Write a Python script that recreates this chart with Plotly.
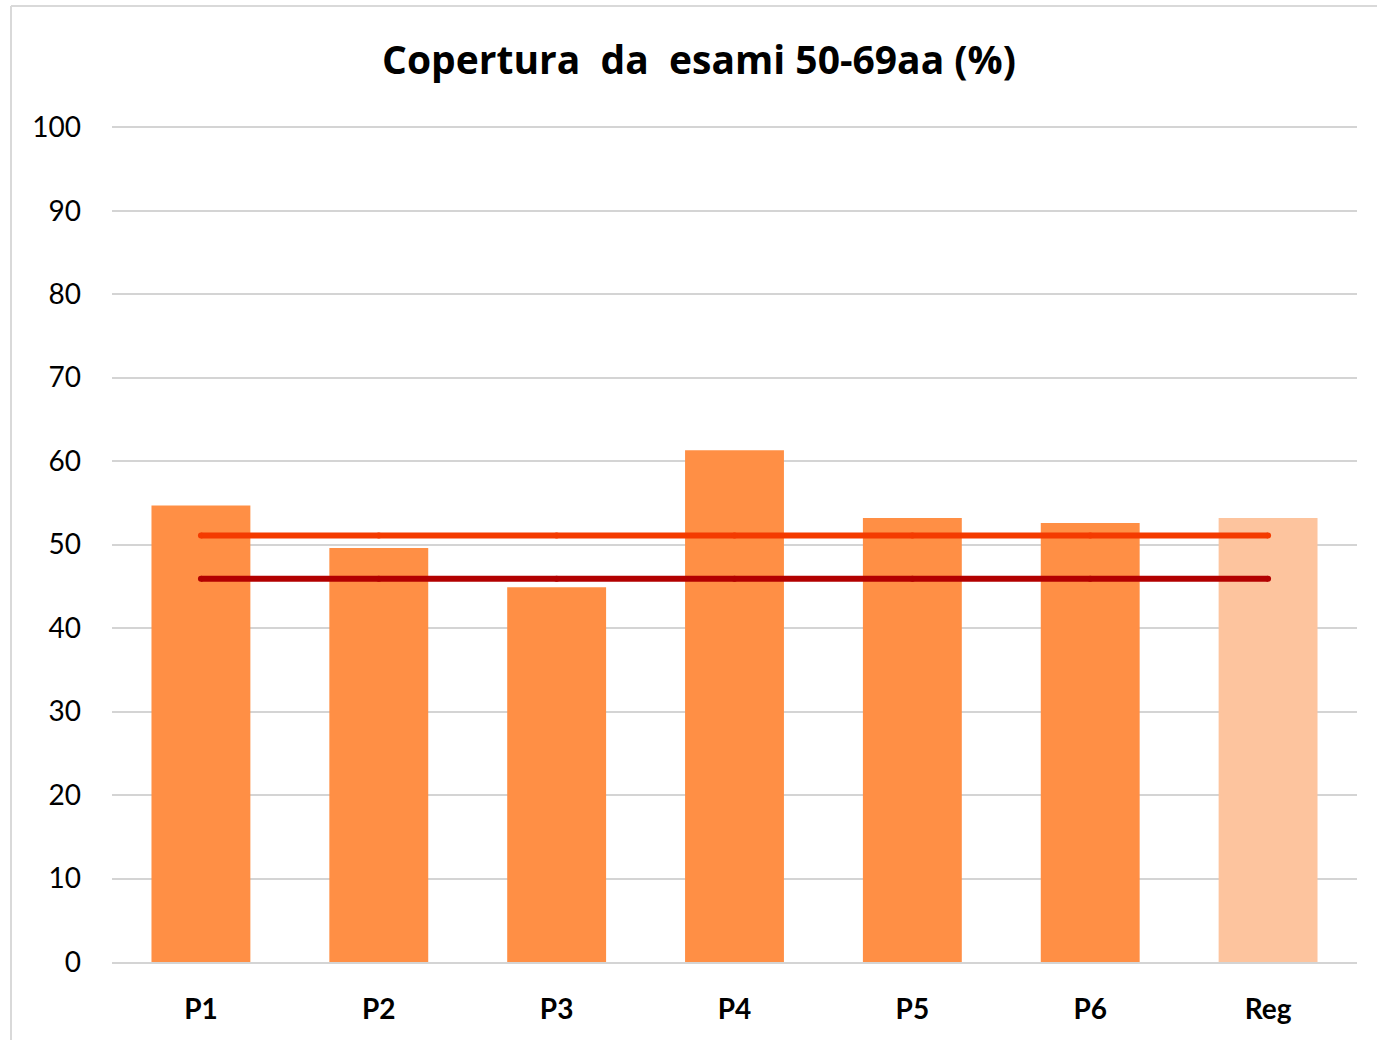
import plotly.graph_objects as go

categories = ["P1", "P2", "P3", "P4", "P5", "P6", "Reg"]
coverage = [54.7, 49.6, 44.9, 61.3, 53.2, 52.6, 53.2]
bar_colors = ["#FF8F45", "#FF8F45", "#FF8F45", "#FF8F45", "#FF8F45", "#FF8F45", "#FDC49E"]
ref_high = [51.1] * 7
ref_low = [45.9] * 7
y_ticks = [0, 10, 20, 30, 40, 50, 60, 70, 80, 90, 100]

FONT = "Lato, 'Open Sans', sans-serif"
TFONT = "'Open Sans', Lato, sans-serif"

fig = go.Figure()
fig.add_trace(go.Bar(x=categories, y=coverage, marker=dict(color=bar_colors, line=dict(width=0)),
                     showlegend=False, hoverinfo="x+y"))
fig.add_trace(go.Scatter(x=categories, y=ref_high, mode="lines+markers",
                         line=dict(color="#F43B00", width=6),
                         marker=dict(size=6, color="#F43B00"), showlegend=False))
fig.add_trace(go.Scatter(x=categories, y=ref_low, mode="lines+markers",
                         line=dict(color="#B20000", width=6),
                         marker=dict(size=6, color="#B20000"), showlegend=False))

L, R, T, B = 112, 20, 126, 78
W, H = 1377, 1040
pw, ph = W - L - R, H - T - B

fig.update_layout(
    width=W, height=H,
    margin=dict(l=L, r=R, t=T, b=B),
    paper_bgcolor="white", plot_bgcolor="white",
    bargap=0.444,
    font=dict(family=FONT, color="#000000"),
    title=dict(text="<b>Copertura  da  esami 50-69aa (%)</b>", x=(699 - L) / pw, xref="paper",
               xanchor="center", y=1 - 60 / H, yanchor="middle",
               font=dict(size=39, family=TFONT, color="#000000")),
    xaxis=dict(tickfont=dict(size=28, family=FONT, color="#000000"),
               tickprefix="<b>", ticksuffix="</b>",
               showgrid=False, showline=True, linecolor="#D4D4D4", linewidth=2,
               ticks="", ticklabelstandoff=21, fixedrange=True),
    yaxis=dict(range=[0, 100.15], tickvals=y_ticks, tickfont=dict(size=28, family=FONT, color="#000000"),
               showgrid=True, gridcolor="#D4D4D4", gridwidth=2, zeroline=False,
               showline=False, ticks="", ticklabelstandoff=30, fixedrange=True),
    shapes=[
        dict(type="line", xref="paper", yref="paper",
             x0=(11 - L) / pw, x1=(11 - L) / pw, y0=(H - 6 - B) / ph, y1=-B / ph - 0.1,
             line=dict(color="#D9D9D9", width=2)),
        dict(type="line", xref="paper", yref="paper",
             x0=(11 - L) / pw, x1=1.1, y0=(H - 6 - B) / ph, y1=(H - 6 - B) / ph,
             line=dict(color="#D9D9D9", width=2)),
    ],
)

fig.write_html("out.html", config={"displayModeBar": False},
               post_script="document.body.style.margin='0';document.body.style.overflow='hidden';")
